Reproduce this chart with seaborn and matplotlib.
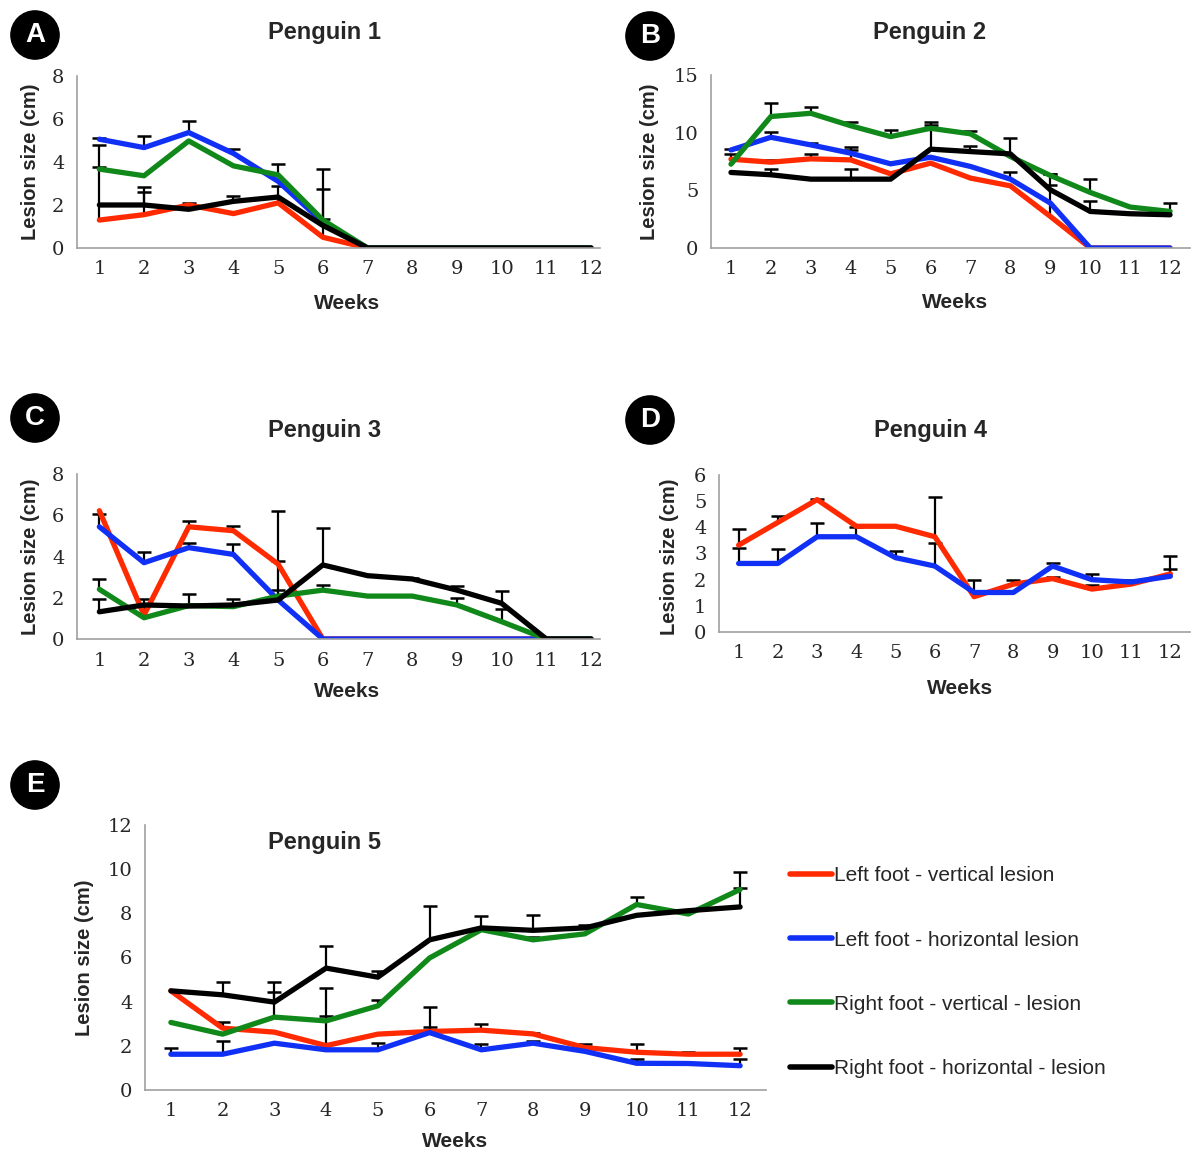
import numpy as np
import pandas as pd
import matplotlib.pyplot as plt
import seaborn as sns
from matplotlib.lines import Line2D

weeks = list(range(1, 13))
series = ["Left foot - vertical lesion", "Left foot - horizontal lesion",
          "Right foot - vertical - lesion", "Right foot - horizontal - lesion"]
colors = ["#ff2a00", "#1030f5", "#10881a", "#000000"]
nan = np.nan

# Penguin 1
p1_lv = [1.3, 1.55, 2.0, 1.6, 2.1, 0.5, 0, 0, 0, 0, 0, 0]
p1_lh = [5.06, 4.67, 5.37, 4.4, 3.1, 1.2, 0, 0, 0, 0, 0, 0]
p1_rv = [3.67, 3.36, 4.98, 3.82, 3.4, 1.3, 0, 0, 0, 0, 0, 0]
p1_rh = [2.0, 2.0, 1.8, 2.17, 2.37, 1.05, 0, 0, 0, 0, 0, 0]
p1_lv_err = [3.5, 1.05, 0.1, nan, 0.8, 2.25, nan, nan, nan, nan, nan, nan]
p1_lh_err = [0.05, 0.55, 0.55, 0.2, nan, nan, nan, nan, nan, nan, nan, nan]
p1_rv_err = [0.1, nan, nan, nan, 0.5, 0.06, nan, nan, nan, nan, nan, nan]
p1_rh_err = [nan, 0.85, nan, 0.23, nan, 2.63, nan, nan, nan, nan, nan, nan]

# Penguin 2
p2_lv = [7.7, 7.44, 7.73, 7.64, 6.43, 7.36, 6.06, 5.39, 2.74, 0, 0, 0]
p2_lh = [8.5, 9.6, 8.94, 8.22, 7.3, 7.87, 7.07, 5.97, 3.9, 0, 0, 0]
p2_rv = [7.27, 11.4, 11.68, 10.6, 9.66, 10.38, 9.9, 7.93, 6.29, 4.82, 3.55, 3.17]
p2_rh = [6.55, 6.35, 5.97, 5.97, 5.97, 8.57, 8.36, 8.16, 5.05, 3.17, 2.97, 2.88]
p2_lv_err = [0.42, 0.19, 0.39, 0.86, nan, nan, nan, nan, 3.7, nan, nan, nan]
p2_lh_err = [0.06, 0.49, 0.14, 0.57, nan, nan, nan, 0.65, nan, nan, nan, nan]
p2_rv_err = [nan, 1.15, 0.52, 0.35, 0.57, 0.3, 0.25, nan, 0.16, 1.16, nan, 0.71]
p2_rh_err = [nan, 0.5, nan, 0.88, nan, 2.38, 0.51, 1.41, 0.41, 0.91, nan, nan]

# Penguin 3
p3_lv = [6.22, 1.16, 5.44, 5.25, 3.63, 0, 0, 0, 0, 0, 0, 0]
p3_lh = [5.44, 3.7, 4.43, 4.1, 1.89, 0, 0, 0, 0, 0, 0, 0]
p3_rv = [2.41, 1.03, 1.62, 1.57, 2.08, 2.37, 2.08, 2.08, 1.65, 0.84, 0, 0]
p3_rh = [1.32, 1.65, 1.6, 1.65, 1.89, 3.59, 3.07, 2.91, 2.37, 1.73, 0, 0]
p3_lv_err = [nan, 0.77, 0.26, 0.24, 0.17, nan, nan, nan, nan, nan, nan, nan]
p3_lh_err = [0.6, 0.54, 0.22, 0.5, nan, nan, nan, nan, nan, nan, nan, nan]
p3_rv_err = [0.5, nan, 0.56, nan, 0.3, 0.25, nan, nan, 0.35, 0.6, nan, nan]
p3_rh_err = [0.61, nan, nan, 0.28, 4.34, 1.77, nan, 0.04, 0.2, 0.6, nan, nan]

# Penguin 4 (left foot only)
p4_lv = [3.32, 4.19, 5.06, 4.04, 4.04, 3.64, 1.35, 1.83, 2.04, 1.64, 1.83, 2.22]
p4_lh = [2.62, 2.62, 3.64, 3.64, 2.84, 2.52, 1.51, 1.51, 2.52, 2.0, 1.91, 2.13]
p4_lv_err = [0.62, 0.24, 0.02, nan, nan, 1.52, 0.65, 0.17, 0.06, 0.14, 0.17, 0.68]
p4_lh_err = [0.58, 0.57, 0.51, 0.39, 0.26, 0.87, nan, nan, 0.13, 0.2, nan, 0.28]

# Penguin 5
p5_lv = [4.49, 2.8, 2.62, 2.01, 2.53, 2.65, 2.71, 2.54, 1.92, 1.71, 1.62, 1.62]
p5_lh = [1.62, 1.62, 2.12, 1.82, 1.82, 2.6, 1.82, 2.12, 1.75, 1.21, 1.2, 1.1]
p5_rv = [3.06, 2.53, 3.3, 3.13, 3.81, 5.98, 7.26, 6.8, 7.07, 8.4, 7.97, 9.08]
p5_rh = [4.49, 4.31, 3.98, 5.52, 5.11, 6.8, 7.34, 7.23, 7.34, 7.91, 8.12, 8.29]
p5_lv_err = [nan, 0.3, nan, 1.32, nan, 1.13, 0.27, 0.03, 0.18, 0.39, 0.09, 0.27]
p5_lh_err = [0.27, 0.58, nan, nan, 0.3, 0.27, 0.28, 0.08, nan, 0.18, nan, 0.3]
p5_rv_err = [nan, nan, 1.16, 1.51, 0.27, nan, nan, 0.15, nan, 0.33, nan, 0.07]
p5_rh_err = [nan, 0.56, 0.89, 0.98, 0.29, 1.55, 0.56, 0.68, 0.15, nan, nan, 1.58]

panels = [
    ("A", "Penguin 1", [p1_lv, p1_lh, p1_rv, p1_rh], [p1_lv_err, p1_lh_err, p1_rv_err, p1_rh_err], 8, 2),
    ("B", "Penguin 2", [p2_lv, p2_lh, p2_rv, p2_rh], [p2_lv_err, p2_lh_err, p2_rv_err, p2_rh_err], 15, 5),
    ("C", "Penguin 3", [p3_lv, p3_lh, p3_rv, p3_rh], [p3_lv_err, p3_lh_err, p3_rv_err, p3_rh_err], 8, 2),
    ("D", "Penguin 4", [p4_lv, p4_lh], [p4_lv_err, p4_lh_err], 6, 1),
    ("E", "Penguin 5", [p5_lv, p5_lh, p5_rv, p5_rh], [p5_lv_err, p5_lh_err, p5_rv_err, p5_rh_err], 12, 2),
]

sns.set_style("white")
plt.rcParams["font.family"] = ["Liberation Sans", "DejaVu Sans"]

W, H = 1195, 1155
fig = plt.figure(figsize=(W / 100, H / 100), dpi=100)


def px_axes(left, top, right, bottom):
    return fig.add_axes([left / W, 1 - bottom / H, (right - left) / W, (bottom - top) / H])


# pixel boxes of each plot area: left, top, right, bottom
boxes = {
    "A": (77, 76, 600, 248),
    "B": (711, 75, 1190, 248),
    "C": (77, 474, 600, 639),
    "D": (719, 475, 1190, 632),
    "E": (145, 825, 766, 1090),
}
# panel letter circle centres and title centres, in pixels
letter_pos = {"A": (35, 35), "B": (650, 36), "C": (35, 418), "D": (650, 420), "E": (35, 785)}
title_pos = {"A": (325, 32), "B": (930, 32), "C": (325, 430), "D": (930, 430), "E": (325, 842)}
xlabel_pos = {"A": (0.516, -0.27), "B": (0.509, -0.26), "C": (0.516, -0.26),
              "D": (0.512, -0.3), "E": (0.5, -0.16)}
ylabel_pos = {"A": (-0.071, 0.5), "B": (-0.109, 0.5), "C": (-0.071, 0.5),
              "D": (-0.085, 0.48), "E": (-0.082, 0.5)}
ticked = {"A": False, "B": True, "C": False, "D": True, "E": True}

for letter, title, values, errs, ymax, ystep in panels:
    ax = px_axes(*boxes[letter])
    names = series[:len(values)]
    df = pd.DataFrame({
        "week": weeks * len(values),
        "size": np.concatenate(values),
        "err": np.concatenate(errs),
        "series": np.repeat(names, len(weeks)),
    })
    eb = df.dropna(subset=["err"])
    ax.vlines(eb["week"], eb["size"], eb["size"] + eb["err"], color="black", lw=1.6, zorder=1)
    ax.plot(eb["week"], eb["size"] + eb["err"], ls="none", marker="_", ms=10, mew=1.8,
            color="black", zorder=1)
    sns.lineplot(data=df, x="week", y="size", hue="series", hue_order=names,
                 palette=colors[:len(values)], linewidth=3.8, legend=False,
                 errorbar=None, ax=ax, zorder=2)

    ax.set_xlim(0.5, 12.2 if letter != "E" else 12.5)
    ax.set_ylim(0, ymax)
    ax.set_xticks(weeks)
    ax.set_yticks(np.arange(0, ymax + 0.1, ystep))
    ax.tick_params(axis="both", labelsize=14, length=0, pad=9)
    for lab in ax.get_xticklabels() + ax.get_yticklabels():
        lab.set_fontfamily("DejaVu Serif")
    if ticked[letter]:
        ax.set_xticks(np.arange(0.5, 12.6, 1), minor=True)
        ax.tick_params(axis="x", which="minor", length=5, width=1, color="#a0a0a0", direction="out")
        ax.tick_params(axis="y", length=4, width=1, color="#a0a0a0", direction="out", pad=5)
    ax.set_xlabel("Weeks", fontsize=15, fontweight="bold")
    ax.set_ylabel("Lesion size (cm)", fontsize=14.5, fontweight="bold")
    ax.xaxis.set_label_coords(*xlabel_pos[letter])
    ax.yaxis.set_label_coords(*ylabel_pos[letter])
    sns.despine(ax=ax)
    for side in ["left", "bottom"]:
        ax.spines[side].set_color("#a0a0a0")
        ax.spines[side].set_linewidth(1.2)

    tx, ty = title_pos[letter]
    fig.text(tx / W, 1 - ty / H, title, fontsize=17, fontweight="bold", ha="center", va="center")
    lx, ly = letter_pos[letter]
    fig.text(lx / W, 1 - ly / H, letter, fontsize=20, fontweight="bold", color="white",
             ha="center", va="center",
             bbox=dict(boxstyle="circle,pad=0.4", fc="black", ec="black"))

handles = [Line2D([], [], color=c, lw=4) for c in colors]
fig.legend(handles, series, loc="upper left", bbox_to_anchor=(782 / W, 1 - 858 / H),
           frameon=False, fontsize=15, labelspacing=2.17, handlelength=2.0,
           handletextpad=0.1, borderaxespad=0)

fig.savefig("out.png", dpi=100)
